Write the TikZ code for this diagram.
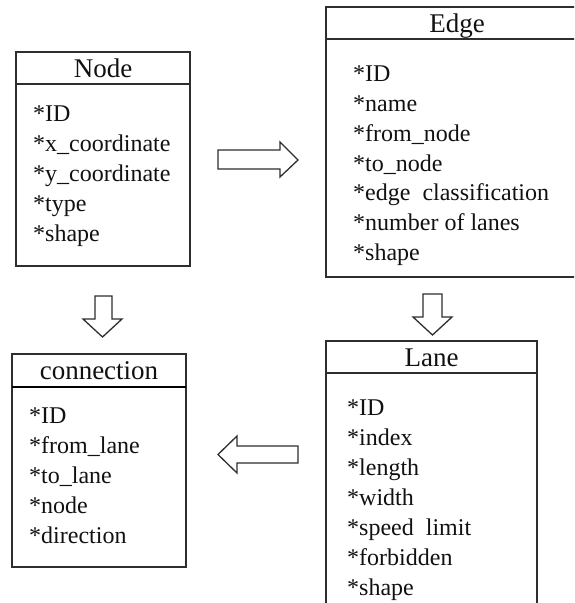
\documentclass[tikz,border=0pt]{standalone}
\usepackage{fontspec}
\setmainfont{Liberation Serif}
\definecolor{linec}{HTML}{2E2E2E}
\definecolor{txtc}{HTML}{111111}
\begin{document}
\begin{tikzpicture}[x=1pt,y=-1pt,
  box/.style={draw=linec, line width=1.3pt},
  hdr/.style={draw=linec, line width=1.8pt},
  hdrthick/.style={draw=black, line width=2.6pt},
  boxtitle/.style={anchor=base, font=\fontsize{27}{30}\selectfont, text=txtc, inner sep=0pt},
  item/.style={anchor=base west, font=\fontsize{24}{28}\selectfont, text=txtc, inner sep=0pt},
  blk/.style={draw=linec, line width=1.3pt, fill=white, line join=miter}]
\useasboundingbox (0,0) rectangle (574,603);
\begin{scope}
\clip (0,0) rectangle (574,603);

% ---------- Node box ----------
\draw[box] (16,52) rectangle (190,266);
\draw[hdr] (16,84) -- (190,84);
\node[boxtitle] (tnode) at (103,77) {Node};
\node[item] (n1) at (33,121) {*ID};
\node[item] (n2) at (33,151) {*x\_coordinate};
\node[item] (n3) at (33,181) {*y\_coordinate};
\node[item] (n4) at (33,211) {*type};
\node[item] (n5) at (33,241) {*shape};

% ---------- Edge box ----------
\draw[box] (326,7) rectangle (588,277);
\draw[hdr] (326,39) -- (588,39);
\node[boxtitle] (tedge) at (457,32) {Edge};
\node[item] (e1) at (353,81) {*ID};
\node[item] (e2) at (353,111) {*name};
\node[item] (e3) at (353,141) {*from\_node};
\node[item] (e4) at (353,171) {*to\_node};
\node[item] (e5) at (353,200) {*edge\ \ classification};
\node[item] (e6) at (353,230) {*number of lanes};
\node[item] (e7) at (353,260) {*shape};

% ---------- Lane box ----------
\draw[box] (326,620) -- (326,341) -- (537,341) -- (537,620);
\draw[hdr] (326,373) -- (537,373);
\node[boxtitle] (tlane) at (431.5,366) {Lane};
\node[item] (l1) at (347,415) {*ID};
\node[item] (l2) at (347,445) {*index};
\node[item] (l3) at (347,475) {*length};
\node[item] (l4) at (347,505) {*width};
\node[item] (l5) at (347,535) {*speed\ \ limit};
\node[item] (l6) at (347,565) {*forbidden};
\node[item] (l7) at (347,595) {*shape};

% ---------- connection box ----------
\draw[box] (12,354) rectangle (186,567);
\draw[hdrthick] (12,387) -- (186,387);
\node[boxtitle] (tconn) at (99,379) {connection};
\node[item] (c1) at (29,423) {*ID};
\node[item] (c2) at (29,453) {*from\_lane};
\node[item] (c3) at (29,483) {*to\_lane};
\node[item] (c4) at (29,513) {*node};
\node[item] (c5) at (29,543) {*direction};

% ---------- block arrows ----------
% Node -> Edge
\draw[blk] (218,150) -- (280,150) -- (280,142) -- (298,160) -- (280,177) -- (280,169) -- (218,169) -- cycle;
% Node -> connection
\draw[blk] (95,296) -- (112,296) -- (112,319) -- (122,319) -- (102.5,337) -- (83,319) -- (95,319) -- cycle;
% Edge -> Lane
\draw[blk] (423,294) -- (442,294) -- (442,317) -- (452,317) -- (432.5,335) -- (413,317) -- (423,317) -- cycle;
% Lane -> connection
\draw[blk] (298,446) -- (237,446) -- (237,436) -- (218,454.5) -- (237,473) -- (237,463) -- (298,463) -- cycle;
\end{scope}
\end{tikzpicture}
\end{document}
